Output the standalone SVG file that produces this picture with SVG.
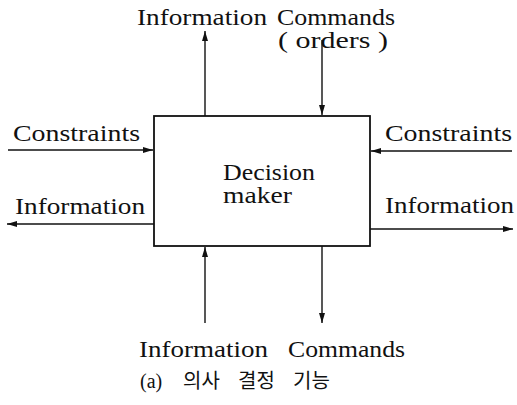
<svg xmlns="http://www.w3.org/2000/svg" width="517" height="405" viewBox="0 0 517 405">
<style>
.t{font-family:"Liberation Serif",serif;font-size:23px;fill:#111}
.k{font-family:"Noto Sans CJK KR",sans-serif;font-size:20px;fill:#111}
.a{font-family:"Liberation Serif",serif;font-size:20px;fill:#111}
.c{stroke:#111;stroke-width:1.4;fill:none;marker-end:url(#ah)}
.box{fill:#fff;stroke:#111;stroke-width:1.8}
</style>
<defs>
<marker id="ah" viewBox="0 0 10 6" refX="10" refY="3" markerWidth="10" markerHeight="6" markerUnits="userSpaceOnUse" orient="auto">
<path d="M0,0 L10,3 L0,6 Z" fill="#111"/>
</marker>
</defs>
<g id="node-decision-maker">
<rect class="box" x="154" y="116" width="216" height="130"/>
<text class="t" x="223" y="180" textLength="92" lengthAdjust="spacingAndGlyphs">Decision</text>
<text class="t" x="223" y="203" textLength="69" lengthAdjust="spacingAndGlyphs">maker</text>
</g>
<g id="connectors">
<line class="c" x1="205" y1="116" x2="205" y2="31"/>
<line class="c" x1="322" y1="40" x2="322" y2="115"/>
<line class="c" x1="8" y1="150" x2="153" y2="150"/>
<line class="c" x1="512" y1="151" x2="371" y2="151"/>
<line class="c" x1="154" y1="224" x2="7" y2="224"/>
<line class="c" x1="370" y1="229" x2="513" y2="229"/>
<line class="c" x1="205" y1="323" x2="205" y2="247"/>
<line class="c" x1="322" y1="246" x2="322" y2="323"/>
</g>
<g id="labels">
<text class="t" x="137" y="25" textLength="130" lengthAdjust="spacingAndGlyphs">Information</text>
<text class="t" x="277" y="25" textLength="118" lengthAdjust="spacingAndGlyphs">Commands</text>
<text class="t" x="278" y="48" textLength="110" lengthAdjust="spacingAndGlyphs">( orders )</text>
<text class="t" x="13" y="141" textLength="127" lengthAdjust="spacingAndGlyphs">Constraints</text>
<text class="t" x="385" y="141" textLength="127" lengthAdjust="spacingAndGlyphs">Constraints</text>
<text class="t" x="15" y="214" textLength="130" lengthAdjust="spacingAndGlyphs">Information</text>
<text class="t" x="385" y="213" textLength="129" lengthAdjust="spacingAndGlyphs">Information</text>
<text class="t" x="139" y="357" textLength="129" lengthAdjust="spacingAndGlyphs">Information</text>
<text class="t" x="288" y="357" textLength="117" lengthAdjust="spacingAndGlyphs">Commands</text>
<text y="388"><tspan class="a" x="140">(a)</tspan><tspan class="k" x="183">의사</tspan><tspan class="k" x="238">결정</tspan><tspan class="k" x="293">기능</tspan></text>
</g>
</svg>
